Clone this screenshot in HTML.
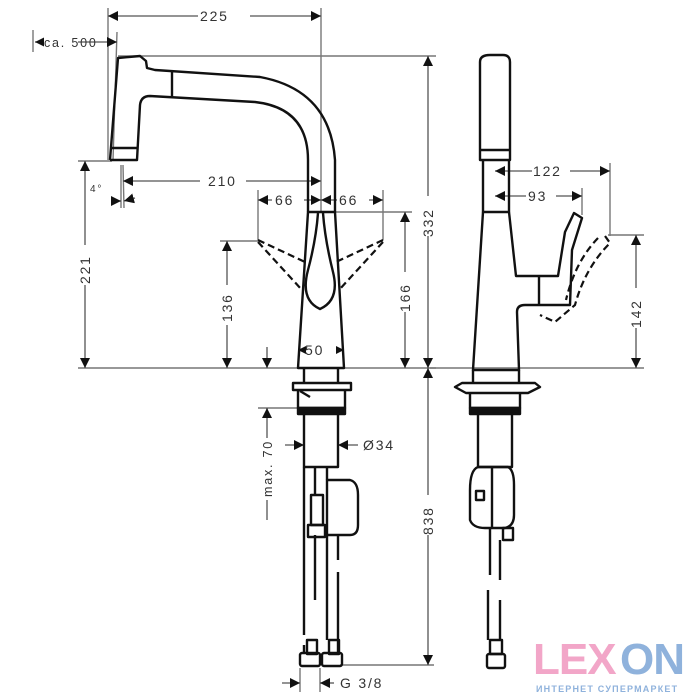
<!DOCTYPE html>
<html><head><meta charset="utf-8"><style>
html,body{margin:0;padding:0;background:#fff;}
svg{display:block;}
text{font-family:"Liberation Sans",sans-serif;fill:#333;}
</style></head><body>
<svg width="700" height="700" viewBox="0 0 700 700" xmlns="http://www.w3.org/2000/svg">
<defs>
<marker id="a" viewBox="0 0 10 10" refX="10" refY="5" markerWidth="10" markerHeight="10" orient="auto-start-reverse" markerUnits="userSpaceOnUse"><path d="M0,0L10,5L0,10z" fill="#111"/></marker>
</defs>
<g stroke="#777" stroke-width="1.4" fill="none">
<line x1="108" y1="8" x2="108" y2="160"/>
<line x1="321" y1="8" x2="321" y2="212"/>
<line x1="33" y1="30" x2="33" y2="52"/>
<line x1="117" y1="32" x2="113" y2="160"/>
<line x1="118" y1="56" x2="436" y2="56"/>
<line x1="78" y1="161" x2="112" y2="161"/>
<line x1="78" y1="368" x2="436" y2="368"/>
<line x1="430" y1="368" x2="644" y2="368"/>
<line x1="258" y1="190" x2="258" y2="240"/>
<line x1="383" y1="190" x2="383" y2="240"/>
<line x1="220" y1="241" x2="258" y2="241"/>
<line x1="335" y1="212" x2="412" y2="212"/>
<line x1="340" y1="665" x2="434" y2="665"/>
<line x1="121" y1="165" x2="121" y2="208"/>
<line x1="123" y1="165" x2="124" y2="208"/>
<line x1="258" y1="408" x2="300" y2="408"/>
<line x1="300" y1="668" x2="300" y2="692"/>
<line x1="320" y1="668" x2="320" y2="692"/>
<line x1="610" y1="163" x2="610" y2="236"/>
<line x1="582" y1="188" x2="582" y2="215"/>
<line x1="608" y1="235" x2="644" y2="235"/>
</g>
<g stroke="#555" stroke-width="1.3" fill="none">
<line x1="108" y1="16" x2="321" y2="16" marker-start="url(#a)" marker-end="url(#a)"/>
<line x1="78" y1="42" x2="117" y2="42" marker-end="url(#a)"/>
<line x1="35" y1="42" x2="44" y2="42" marker-start="url(#a)"/>
<line x1="123" y1="181" x2="321" y2="181" marker-start="url(#a)" marker-end="url(#a)"/>
<line x1="258" y1="200" x2="321" y2="200" marker-start="url(#a)" marker-end="url(#a)"/>
<line x1="321" y1="200" x2="383" y2="200" marker-start="url(#a)" marker-end="url(#a)"/>
<line x1="112" y1="201" x2="121" y2="201" marker-end="url(#a)"/>
<line x1="135" y1="198" x2="124" y2="201" marker-end="url(#a)"/>
<line x1="85" y1="161" x2="85" y2="368" marker-start="url(#a)" marker-end="url(#a)"/>
<line x1="227" y1="241" x2="227" y2="368" marker-start="url(#a)" marker-end="url(#a)"/>
<line x1="267" y1="347" x2="267" y2="368" marker-end="url(#a)"/>
<line x1="405" y1="212" x2="405" y2="368" marker-start="url(#a)" marker-end="url(#a)"/>
<line x1="428" y1="56" x2="428" y2="368" marker-start="url(#a)" marker-end="url(#a)"/>
<line x1="428" y1="368" x2="428" y2="665" marker-start="url(#a)" marker-end="url(#a)"/>
<line x1="298" y1="350" x2="344" y2="350" marker-start="url(#a)" marker-end="url(#a)"/>
<line x1="267" y1="408" x2="267" y2="520" marker-start="url(#a)"/>
<line x1="285" y1="445" x2="304" y2="445" marker-end="url(#a)"/>
<line x1="358" y1="445" x2="338" y2="445" marker-end="url(#a)"/>
<line x1="282" y1="683" x2="300" y2="683" marker-end="url(#a)"/>
<line x1="334" y1="683" x2="320" y2="683" marker-end="url(#a)"/>
<line x1="495" y1="171" x2="610" y2="171" marker-start="url(#a)" marker-end="url(#a)"/>
<line x1="495" y1="196" x2="582" y2="196" marker-start="url(#a)" marker-end="url(#a)"/>
<line x1="636" y1="235" x2="636" y2="368" marker-start="url(#a)" marker-end="url(#a)"/>
</g>
<g fill="#fff">
<rect x="198" y="8" width="52" height="16"/><rect x="44" y="34" width="34" height="16"/>
<rect x="200" y="173" width="46" height="16"/><rect x="272" y="192" width="32" height="16"/><rect x="337" y="192" width="32" height="16"/>
<rect x="77" y="245" width="16" height="40"/><rect x="219" y="285" width="16" height="40"/><rect x="397" y="272" width="16" height="40"/>
<rect x="420" y="196" width="16" height="40"/><rect x="420" y="495" width="16" height="40"/>
<rect x="306" y="342" width="30" height="16"/><rect x="532" y="163" width="38" height="16"/><rect x="526" y="188" width="30" height="16"/>
<rect x="628" y="288" width="16" height="40"/><rect x="259" y="438" width="16" height="62"/>
</g>
<g font-size="14" letter-spacing="1.8">
<text x="200" y="21">225</text>
<text x="44" y="47" font-size="12.5">ca. 500</text>
<text x="208" y="186">210</text>
<text x="275" y="205">66</text>
<text x="339" y="205">66</text>
<text x="90" y="192" font-size="10">4°</text>
<text x="305" y="355">50</text>
<text x="363" y="450">Ø34</text>
<text x="340" y="688">G 3/8</text>
<text x="533" y="176">122</text>
<text x="528" y="201">93</text>
<text transform="translate(90,284) rotate(-90)">221</text>
<text transform="translate(232,322) rotate(-90)">136</text>
<text transform="translate(410,312) rotate(-90)">166</text>
<text transform="translate(433,237) rotate(-90)">332</text>
<text transform="translate(433,535) rotate(-90)">838</text>
<text transform="translate(641,328) rotate(-90)">142</text>
<text transform="translate(272,497) rotate(-90)" font-size="12.5">max. 70</text>
</g>
<g stroke="#111" stroke-width="2.4" fill="none" stroke-linejoin="round">
<path d="M110,160 L118,58 L140,56 L146,61 L147,68 L155,70 L260,77 Q330,90 335,160 L335,212"/>
<path d="M110,160 L137,160 L140,105 Q141,96 150,96 L255,102 Q308,108 308,160 L308,212"/>
<line x1="111" y1="148" x2="138" y2="148"/>
<line x1="172" y1="71" x2="172" y2="97"/>
<path d="M308,212 L335,212 L344,368 L298,368 Z"/>
<path d="M318,213 Q316,240 308,270 Q300,300 320,309 Q340,300 333,272 Q325,240 323,213"/>
<path d="M304,368 L304,383 M338,368 L338,383"/>
<path d="M293,383 L351,383 L351,390 L293,390 Z"/>
<path d="M298,390 L298,408 L345,408 L345,390"/>
<line x1="300" y1="391" x2="310" y2="397"/>
<rect x="298" y="408" width="47" height="6" fill="#111"/>
<path d="M304,414 L304,467 L338,467 L338,414"/>
<path d="M327,480 L350,480 Q358,482 358,495 L358,525 Q358,535 350,535 L327,535 Z"/>
<path d="M304,467 L304,635 M315,467 L315,495 M327,467 L327,480 M338,535 L338,560 M304,645 L304,653 M338,572 L338,653"/>
<path d="M315,535 L315,600 M327,535 L327,640"/>
<rect x="311" y="495" width="12" height="30"/>
<rect x="308" y="525" width="17" height="12"/>
<rect x="307" y="640" width="10" height="14"/>
<rect x="329" y="640" width="10" height="14"/>
<rect x="300" y="653" width="20" height="13" rx="2"/>
<rect x="322" y="653" width="20" height="13" rx="2"/>
</g>
<g stroke="#111" stroke-width="2.2" stroke-dasharray="7,4" fill="none">
<path d="M258,240 L305,262 M258,242 L302,290 M383,240 L336,262 M383,242 L339,290"/>
</g>
<g stroke="#111" stroke-width="2.4" fill="none" stroke-linejoin="round">
<path d="M480,160 L480,62 Q480,55 490,55 L503,55 Q510,55 510,62 L510,160 Z"/>
<line x1="480" y1="150" x2="510" y2="150"/>
<path d="M483,160 L483,212 L509,212 L509,160"/>
<path d="M483,212 L473,370 L519,370 L517,312 Q517,305 525,305 L570,305 L572,250 L582,218 L574,213 L565,232 L558,276 L516,276 L509,212"/>
<line x1="539" y1="276" x2="539" y2="305"/>
<path d="M473,370 L473,383 M519,370 L519,383"/>
<path d="M462,383 L535,383 L540,387 L528,393 L466,393 L455,387 Z"/>
<path d="M470,393 L470,408 L520,408 L520,393"/>
<rect x="470" y="408" width="50" height="6" fill="#111"/>
<path d="M478,414 L478,467 L512,467 L512,414"/>
<path d="M478,467 Q470,470 470,490 L470,520 Q473,528 485,528 L505,528 Q514,526 514,515 L514,485 Q514,470 508,467 Z"/>
<line x1="492" y1="467" x2="492" y2="528"/>
<rect x="476" y="491" width="8" height="9"/>
<rect x="503" y="528" width="10" height="12"/>
<path d="M490,528 L490,575 M500,540 L500,580 M488,590 L488,640 M500,600 L500,640"/>
<rect x="490" y="640" width="12" height="14"/>
<rect x="487" y="654" width="18" height="14" rx="2"/>
</g>
<g stroke="#111" stroke-width="2.2" stroke-dasharray="7,4" fill="none">
<path d="M605,236 L610,243 Q585,268 575,305 L555,322 L540,315 M598,238 Q575,262 566,300"/>
</g>
<g font-family="Liberation Sans, sans-serif" font-weight="bold">
<text x="533" y="674" font-size="44" letter-spacing="-1" style="fill:#f2a6c8">LEX</text>
<text x="620" y="674" font-size="44" style="fill:#8fb2dc" letter-spacing="-1">ON</text>
<text x="536" y="692" font-size="9" style="fill:#8fb2dc" letter-spacing="1.2">ИНТЕРНЕТ СУПЕРМАРКЕТ</text>
</g>
</svg>
</body></html>
